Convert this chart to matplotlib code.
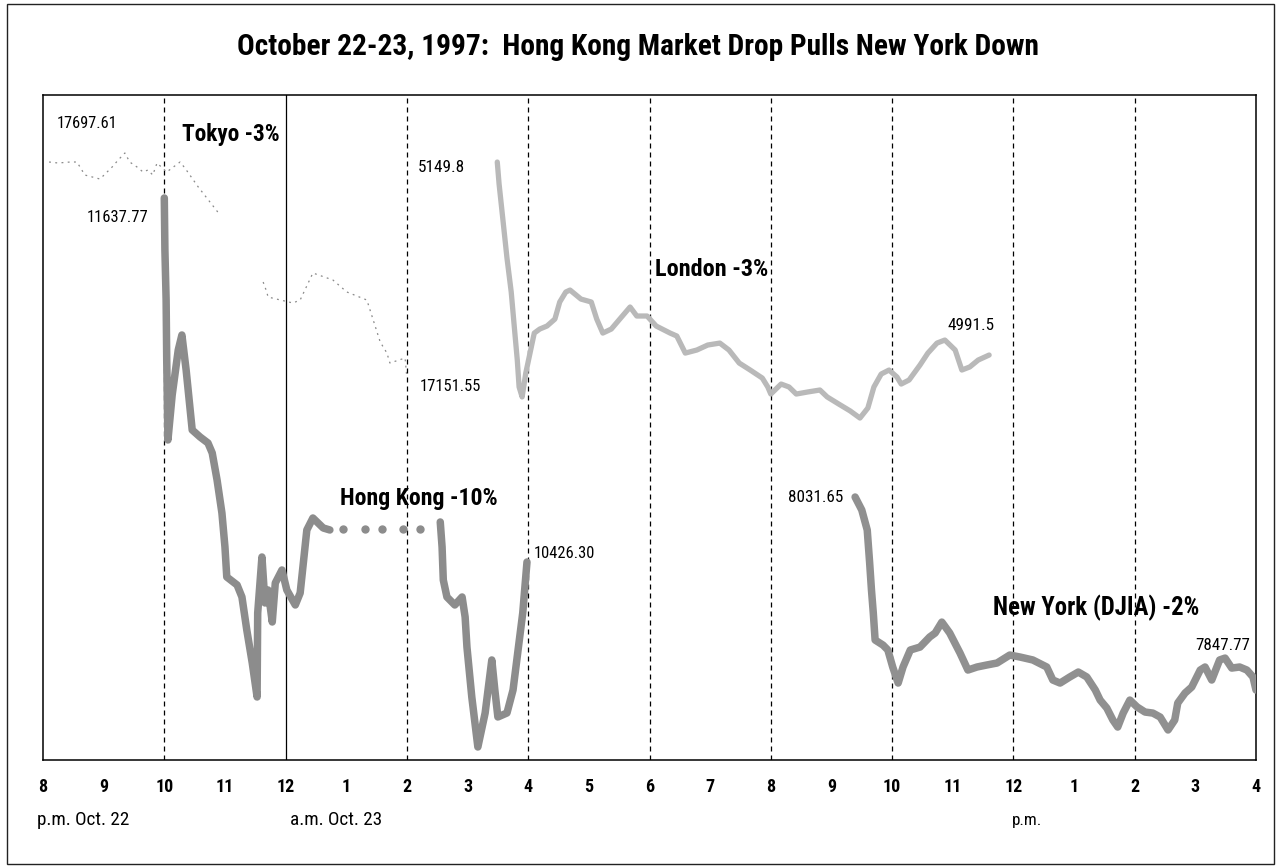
import matplotlib
matplotlib.use("Agg")
import matplotlib.pyplot as plt
from matplotlib import font_manager as fm
from matplotlib.patches import Rectangle

# ---------------- data (hours after 8 p.m. Oct. 22, index level) ----------------
tick_hours = list(range(21))
tick_labels = ["8", "9", "10", "11", "12", "1", "2", "3", "4", "5", "6",
               "7", "8", "9", "10", "11", "12", "1", "2", "3", "4"]
dashed_hours = [2, 6, 8, 10, 12, 14, 16, 18]
solid_hours = [4]

tokyo_am_t = [0.10, 0.25, 0.45, 0.56, 0.69, 0.94, 1.14, 1.24, 1.35, 1.43, 1.55, 1.65,
              1.73, 1.81, 1.88, 2.04, 2.26, 2.34, 2.56, 2.92]
tokyo_am_v = [17697.61, 17695.1, 17697.6, 17697.6, 17664.7, 17654.6, 17685.0, 17702.7,
              17720.4, 17697.6, 17685.0, 17672.3, 17677.4, 17664.7, 17695.1, 17672.3,
              17697.6, 17682.4, 17634.4, 17563.6]
tokyo_pm_t = [3.63, 3.69, 3.71, 4.12, 4.24, 4.45, 4.78, 5.01, 5.34, 5.56, 5.67, 5.72,
              5.97, 6.00]
tokyo_pm_v = [17394.2, 17369.0, 17356.3, 17341.2, 17348.7, 17417.0, 17399.3, 17369.0,
              17348.7, 17242.6, 17214.8, 17189.5, 17202.1, 17151.55]

hk_am_t = [2.00, 2.01, 2.03, 2.04, 2.06, 2.13, 2.23, 2.29, 2.36, 2.46, 2.59, 2.72,
           2.79, 2.87, 2.95, 3.00, 3.03, 3.20, 3.28, 3.36, 3.45, 3.53, 3.54, 3.61,
           3.66, 3.71, 3.78, 3.83, 3.94, 4.02, 4.16, 4.24, 4.35, 4.45, 4.62, 4.73]
hk_am_v = [11637.77, 11464.7, 11298.3, 11098.7, 10832.4, 10982.2, 11131.9, 11181.8,
           11065.4, 10865.7, 10842.4, 10822.4, 10789.2, 10699.3, 10589.5, 10476.3,
           10376.5, 10349.9, 10309.9, 10200.1, 10090.3, 9977.1, 10256.7, 10443.0,
           10290.0, 10333.2, 10226.7, 10356.5, 10399.8, 10333.2, 10283.3, 10323.2,
           10532.9, 10572.8, 10539.6, 10532.9]
hk_break_t = [4.95, 5.31, 5.59, 5.94, 6.22]
hk_break_v = [10536.2, 10536.2, 10536.2, 10536.2, 10536.2]
hk_pm_t = [6.55, 6.58, 6.60, 6.66, 6.79, 6.91, 6.96, 6.99, 7.07, 7.17, 7.29, 7.40,
           7.45, 7.50, 7.65, 7.75, 7.86, 7.91, 7.98]
hk_pm_v = [10559.5, 10476.3, 10366.5, 10309.9, 10283.3, 10309.9, 10243.4, 10143.5,
           9977.1, 9810.7, 9923.9, 10100.3, 10000.4, 9910.6, 9923.9, 10000.4, 10176.8,
           10256.7, 10426.30]

london_t = [7.49, 7.52, 7.58, 7.65, 7.72, 7.78, 7.82, 7.85, 7.90, 7.96, 8.03, 8.10,
            8.19, 8.31, 8.44, 8.52, 8.62, 8.69, 8.87, 9.04, 9.13, 9.23, 9.37, 9.51,
            9.68, 9.79, 9.96, 10.11, 10.34, 10.45, 10.59, 10.78, 10.96, 11.16, 11.31,
            11.48, 11.66, 11.86, 11.95, 12.00, 12.17, 12.30, 12.42, 12.61, 12.81,
            12.93, 13.12, 13.31, 13.47, 13.60, 13.70, 13.82, 13.95, 14.08, 14.15,
            14.28, 14.46, 14.59, 14.74, 14.87, 15.04, 15.15, 15.28, 15.42, 15.60]
london_v = [5149.8, 5131.8, 5103.9, 5071.1, 5043.2, 5009.5, 4987.4, 4965.3, 4957.1,
            4976.7, 4993.1, 5009.5, 5012.8, 5015.3, 5021.0, 5035.0, 5043.2, 5044.8,
            5037.4, 5035.0, 5021.0, 5009.5, 5012.8, 5021.0, 5030.9, 5023.5, 5023.5,
            5015.3, 5009.5, 5007.1, 4993.1, 4995.6, 4999.7, 5001.3, 4995.6, 4984.9,
            4979.2, 4972.6, 4965.3, 4959.5, 4967.7, 4965.3, 4959.5, 4961.2, 4962.8,
            4957.1, 4951.3, 4945.6, 4939.8, 4948.0, 4965.3, 4975.9, 4979.2, 4973.5,
            4967.7, 4971.0, 4983.3, 4993.1, 5001.3, 5003.8, 4995.6, 4979.2, 4981.7,
            4987.4, 4991.5]

ny_t = [13.39, 13.50, 13.59, 13.63, 13.66, 13.69, 13.72, 13.85, 13.93, 14.01, 14.10,
        14.18, 14.30, 14.46, 14.62, 14.71, 14.82, 14.95, 15.12, 15.25, 15.40, 15.56,
        15.73, 15.94, 16.11, 16.32, 16.55, 16.65, 16.77, 16.93, 17.07, 17.21, 17.35,
        17.43, 17.54, 17.64, 17.72, 17.81, 17.92, 18.04, 18.17, 18.30, 18.42, 18.55,
        18.66, 18.71, 18.83, 18.94, 19.08, 19.16, 19.27, 19.40, 19.49, 19.60, 19.73,
        19.85, 19.95, 20.00]
ny_v = [8031.65, 8019.3, 8000.2, 7968.8, 7943.0, 7921.1, 7895.4, 7890.6, 7885.9,
        7869.7, 7854.4, 7869.7, 7885.9, 7888.7, 7898.3, 7902.1, 7912.5, 7902.1, 7883.0,
        7866.8, 7869.7, 7871.6, 7873.5, 7881.1, 7879.2, 7876.4, 7869.7, 7857.3, 7854.4,
        7860.2, 7864.9, 7860.2, 7847.8, 7838.2, 7830.6, 7819.2, 7812.5, 7825.8, 7838.2,
        7831.6, 7826.8, 7825.8, 7822.0, 7809.7, 7819.2, 7835.4, 7844.9, 7850.6, 7866.8,
        7869.7, 7857.3, 7876.4, 7878.2, 7868.7, 7869.7, 7866.8, 7860.2, 7847.77]

# ---------------- fonts: prefer a condensed sans ----------------
ttf = fm.fontManager.ttflist
COND = ("condensed", "semi-condensed", "extra-condensed")
FONT, STRETCH = "DejaVu Sans", "condensed"
for name, st in [("Liberation Sans Narrow", None), ("Roboto Condensed", None),
                 ("Noto Sans", "condensed"), ("Open Sans", "condensed"),
                 ("Roboto", "condensed")]:
    if any(f.name == name and (st is None or f.stretch in COND) for f in ttf):
        FONT, STRETCH = name, (st or "normal")
        break
plt.rcParams["font.family"] = [FONT, "DejaVu Sans"]
plt.rcParams["font.stretch"] = STRETCH

W, H = 1278, 867
fig = plt.figure(figsize=(W / 100, H / 100), dpi=100)
fig.patch.set_facecolor("white")

L, R, T, B = 43, 1256, 95, 760
ax = fig.add_axes([L / W, 1 - B / H, (R - L) / W, (B - T) / H])
ax.set_xlim(0, 20)
ax.set_ylim(0, 1)
ax.set_yticks([])
ax.set_xticks(tick_hours)
ax.set_xticklabels(tick_labels, fontsize=13, fontweight="bold")
ax.tick_params(axis="x", length=0, pad=13)
for s in ax.spines.values():
    s.set_linewidth(1.1)
    s.set_color("black")

for h in dashed_hours:
    ax.axvline(h, color="black", lw=0.9, dashes=(4, 3.2), zorder=1)
for h in solid_hours:
    ax.axvline(h, color="black", lw=0.9, zorder=1)


def market_axis(lo, hi):
    a = ax.twinx()
    a.set_ylim(lo, hi)
    a.axis("off")
    return a


ax_tk = market_axis(16185.9, 17867.0)
ax_hk = market_axis(9767.4, 11980.5)
ax_ld = market_axis(4659.3, 5204.8)
ax_ny = market_axis(7781.1, 8414.7)

tk_style = dict(color="#8a8a8a", lw=0.9, dashes=(1.5, 3.5))
ax_tk.plot(tokyo_am_t, tokyo_am_v, **tk_style)
ax_tk.plot(tokyo_pm_t, tokyo_pm_v, **tk_style)

hk_style = dict(color="#8c8c8c", lw=5.4, solid_capstyle="round", solid_joinstyle="round")
ax_hk.plot(hk_am_t, hk_am_v, **hk_style)
ax_hk.plot(hk_pm_t, hk_pm_v, **hk_style)
ax_hk.plot(hk_break_t, hk_break_v, linestyle="none", marker="o", ms=5,
           color="#8c8c8c")

ax_ld.plot(london_t, london_v, color="#b9b9b9", lw=3.8,
           solid_capstyle="round", solid_joinstyle="round")
ax_ny.plot(ny_t, ny_v, color="#909090", lw=5.4,
           solid_capstyle="round", solid_joinstyle="round")

fits = []


def txt(x, y, s, width, ha="left", size=12, weight="normal"):
    t = fig.text(x / W, 1 - y / H, s, ha=ha, va="center", fontsize=size,
                 fontweight=weight, color="black")
    fits.append((t, width))
    return t


txt(638, 47, "October 22-23, 1997:  Hong Kong Market Drop Pulls New York Down", 803,
    ha="center", size=18, weight="bold")

txt(57, 123, "17697.61", 61)
txt(182, 135, "Tokyo -3%", 98, size=14, weight="bold")
txt(148, 218, "11637.77", 61, ha="right")
txt(418, 168, "5149.8", 47)
txt(420, 387, "17151.55", 61)
txt(655, 269, "London -3%", 113, size=14, weight="bold")
txt(947, 325, "4991.5", 47)
txt(340, 498, "Hong Kong -10%", 158, size=14, weight="bold")
txt(534, 553, "10426.30", 61)
txt(843, 498, "8031.65", 55, ha="right")
txt(993, 608, "New York (DJIA) -2%", 207, size=14, weight="bold")
txt(1195, 645, "7847.77", 55)

txt(37, 820, "p.m. Oct. 22", 92)
txt(290, 820, "a.m. Oct. 23", 92)
txt(1012, 820, "p.m.", 30)

# fit text sizes to the reference widths
fig.canvas.draw()
rend = fig.canvas.get_renderer()
for t, width in fits:
    w = t.get_window_extent(rend).width
    if w > 0:
        t.set_fontsize(t.get_fontsize() * width / w)

fig.patches.append(Rectangle((7 / W, 1 - 864 / H), (1274 - 7) / W, (864 - 4) / H,
                             transform=fig.transFigure, fill=False,
                             edgecolor="#222222", lw=1.0))

fig.savefig("out.png", dpi=100)
